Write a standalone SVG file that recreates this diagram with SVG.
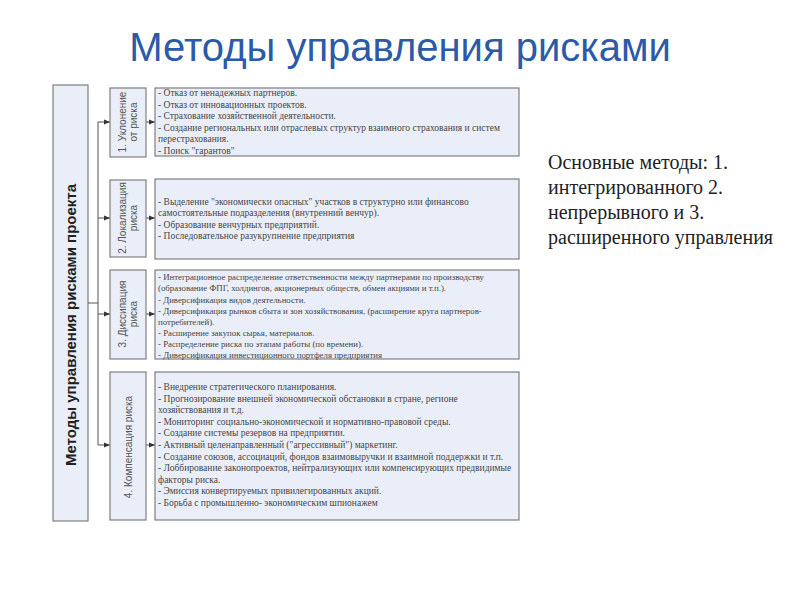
<svg xmlns="http://www.w3.org/2000/svg" width="800" height="600" viewBox="0 0 800 600">
<defs>
<style>
.box{fill:#e9eef8;stroke:#7f7f7f;stroke-width:1.2}
.title{font-family:"Liberation Sans",Arial,sans-serif;font-size:40px;fill:#2b5aa8}
.main{font-family:"Liberation Sans",Arial,sans-serif;font-size:15px;font-weight:bold;fill:#222}
.cat{font-family:"Liberation Sans",Arial,sans-serif;font-size:10px;fill:#555}
.det{font-family:"Liberation Serif","Times New Roman",serif;font-size:9.5px;fill:#474747}
.det3{font-size:8.8px}
.side{font-family:"Liberation Serif","Times New Roman",serif;font-size:20px;fill:#222}
.ln{fill:none;stroke:#555;stroke-width:1}
</style>
<marker id="ah" viewBox="0 0 10 10" refX="10" refY="5" markerWidth="6" markerHeight="6" orient="auto" markerUnits="userSpaceOnUse">
<path d="M0,1 L10,5 L0,9 z" fill="#333"/>
</marker>
</defs>
<rect width="800" height="600" fill="#fff"/>
<text class="title" x="400" y="61" text-anchor="middle">Методы управления рисками</text>

<g id="main">
<rect class="box" x="53" y="85" width="35" height="436"/>
<text class="main" transform="translate(76,325) rotate(-90)" text-anchor="middle">Методы управления рисками проекта</text>
</g>

<g id="connectors">
<path class="ln" d="M88,303 H98 M98,122 V445"/>
<path class="ln" d="M98,122 H110" marker-end="url(#ah)"/>
<path class="ln" d="M98,218 H110" marker-end="url(#ah)"/>
<path class="ln" d="M98,314 H110" marker-end="url(#ah)"/>
<path class="ln" d="M98,445 H110" marker-end="url(#ah)"/>
<path class="ln" d="M146,122 H155" marker-end="url(#ah)"/>
<path class="ln" d="M146,218 H155" marker-end="url(#ah)"/>
<path class="ln" d="M146,314 H155" marker-end="url(#ah)"/>
<path class="ln" d="M146,445 H155" marker-end="url(#ah)"/>
</g>

<g id="cat1">
<rect class="box" x="110" y="88" width="36" height="69"/>
<text class="cat" transform="translate(128,122) rotate(-90)" text-anchor="middle"><tspan x="0" y="-2">1. Уклонение</tspan><tspan x="0" y="9">от риска</tspan></text>
</g>
<g id="cat2">
<rect class="box" x="110" y="180" width="36" height="77"/>
<text class="cat" transform="translate(128,218) rotate(-90)" text-anchor="middle"><tspan x="0" y="-2">2. Локализация</tspan><tspan x="0" y="9">риска</tspan></text>
</g>
<g id="cat3">
<rect class="box" x="110" y="270" width="36" height="89"/>
<text class="cat" transform="translate(128,314) rotate(-90)" text-anchor="middle"><tspan x="0" y="-2">3. Диссипация</tspan><tspan x="0" y="9">риска</tspan></text>
</g>
<g id="cat4">
<rect class="box" x="110" y="372" width="36" height="148"/>
<text class="cat" transform="translate(132,447) rotate(-90)" text-anchor="middle">4. Компенсация риска</text>
</g>

<g id="det1">
<rect class="box" x="155" y="88" width="364" height="68"/>
<text class="det">
<tspan x="158" y="96">- Отказ от ненадежных партнеров.</tspan>
<tspan x="158" y="107.5">- Отказ от инновационных проектов.</tspan>
<tspan x="158" y="119">- Страхование хозяйственной деятельности.</tspan>
<tspan x="158" y="130.5">- Создание региональных или отраслевых структур взаимного страхования и систем</tspan>
<tspan x="158" y="142">перестрахования.</tspan>
<tspan x="158" y="153.5">- Поиск "гарантов"</tspan>
</text>
</g>
<g id="det2">
<rect class="box" x="155" y="179" width="364" height="80"/>
<text class="det">
<tspan x="158" y="205">- Выделение "экономически опасных" участков в структурно или финансово</tspan>
<tspan x="158" y="216">самостоятельные подразделения (внутренний венчур).</tspan>
<tspan x="158" y="227.5">- Образование венчурных предприятий.</tspan>
<tspan x="158" y="239">- Последовательное разукрупнение предприятия</tspan>
</text>
</g>
<g id="det3">
<rect class="box" x="155" y="270" width="364" height="89"/>
<text class="det det3">
<tspan x="158" y="280">- Интеграционное распределение ответственности между партнерами по производству</tspan>
<tspan x="158" y="291">(образование ФПГ, холдингов, акционерных обществ, обмен акциями и т.п.).</tspan>
<tspan x="158" y="302.5">- Диверсификация видов деятельности.</tspan>
<tspan x="158" y="313.5">- Диверсификация рынков сбыта и зон хозяйствования, (расширение круга партнеров-</tspan>
<tspan x="158" y="324.5">потребителей).</tspan>
<tspan x="158" y="335.5">- Расширение закупок сырья, материалов.</tspan>
<tspan x="158" y="346.5">- Распределение риска по этапам работы (по времени).</tspan>
<tspan x="158" y="357.5">- Диверсификация инвестиционного портфеля предприятия</tspan>
</text>
</g>
<g id="det4">
<rect class="box" x="155" y="372" width="364" height="148"/>
<text class="det">
<tspan x="158" y="390">- Внедрение стратегического планирования.</tspan>
<tspan x="158" y="401.5">- Прогнозирование внешней экономической обстановки в стране, регионе</tspan>
<tspan x="158" y="413">хозяйствования и т.д.</tspan>
<tspan x="158" y="424.5">- Мониторинг социально-экономической и нормативно-правовой среды.</tspan>
<tspan x="158" y="436">- Создание системы резервов на предприятии.</tspan>
<tspan x="158" y="448">- Активный целенаправленный ("агрессивный") маркетинг.</tspan>
<tspan x="158" y="459.5">- Создание союзов, ассоциаций, фондов взаимовыручки и взаимной поддержки и т.п.</tspan>
<tspan x="158" y="471">- Лоббирование законопроектов, нейтрализующих или компенсирующих предвидимые</tspan>
<tspan x="158" y="482.5">факторы риска.</tspan>
<tspan x="158" y="494">- Эмиссия конвертируемых привилегированных акций.</tspan>
<tspan x="158" y="505.5">- Борьба с промышленно- экономическим шпионажем</tspan>
</text>
</g>

<g id="side">
<text class="side">
<tspan x="548" y="169">Основные методы: 1.</tspan>
<tspan x="548" y="194">интегрированного 2.</tspan>
<tspan x="548" y="219">непрерывного и 3.</tspan>
<tspan x="548" y="244">расширенного управления</tspan>
</text>
</g>
</svg>
